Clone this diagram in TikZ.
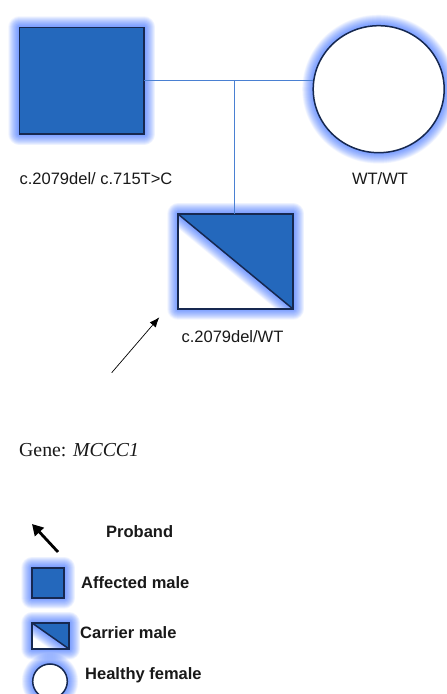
\documentclass[tikz,border=0pt]{standalone}
\usepackage{fontspec}
\setmainfont{Liberation Sans}
\newfontfamily\genefont{Liberation Serif}
\usetikzlibrary{shapes.geometric,arrows.meta}
\pgfdeclarelayer{bg}
\pgfsetlayers{bg,main}
\definecolor{fillblue}{RGB}{36,104,188}
\definecolor{edgeblue}{RGB}{22,40,80}
\definecolor{lineblue}{RGB}{74,128,210}
\definecolor{glowblue}{RGB}{40,100,255}
\definecolor{txt}{RGB}{25,25,25}
\tikzset{
  glowline/.style={draw=glowblue, opacity=0.04, line join=round},
  edge/.style={draw=edgeblue, line width=1.5pt},
  affbox/.style={rectangle, fill=fillblue, edge, inner sep=0pt, outer sep=0pt},
  whitebox/.style={rectangle, fill=white, inner sep=0pt, outer sep=0pt},
  femshape/.style={ellipse, fill=white, edge, inner sep=0pt, outer sep=0pt},
  kinline/.style={draw=lineblue, line width=0.9pt},
  lab/.style={font=\fontsize{16.5}{19}\selectfont, text=txt, inner sep=0pt, anchor=base},
  leglab/.style={font=\fontsize{16.5}{19}\selectfont\bfseries, text=txt, inner sep=0pt, anchor=base west},
}
\newcommand{\myglow}[1]{%
  \begin{pgfonlayer}{bg}
    \foreach \w in {1,2,...,22}{\path[glowline, line width=\w pt] #1;}
  \end{pgfonlayer}}
\newcommand{\carrierdraw}[1]{%
  \myglow{(#1.south west) rectangle (#1.north east)}
  \begin{scope}
    \clip (#1.south west) rectangle (#1.north east);
    \foreach \w in {1,2,...,22}{\path[glowline, line width=\w pt] (#1.north west) -- (#1.south east);}
  \end{scope}
  \fill[fillblue] (#1.north west) -- (#1.north east) -- (#1.south east) -- cycle;
  \draw[edge] (#1.north west) rectangle (#1.south east);
  \draw[edge] (#1.north west) -- (#1.south east);}
\begin{document}
\begin{tikzpicture}[x=1pt,y=1pt]
\useasboundingbox (0,0) rectangle (447,694);
\begin{pgfonlayer}{bg}
  \fill[white] (0,0) rectangle (447,694);
\end{pgfonlayer}

% parents
\node[affbox, minimum width=124.7pt, minimum height=106.7pt] (father) at (81.7,613.3) {};
\myglow{(father.south west) rectangle (father.north east)}
\node[femshape, minimum width=131pt, minimum height=127pt] (mother) at (378.7,604.8) {};
\myglow{(mother.center) ellipse [x radius=65.5pt, y radius=63.5pt]}

% child (proband, carrier)
\node[whitebox, minimum width=115pt, minimum height=95pt] (child) at (235.5,432.5) {};
\carrierdraw{child}

% connectors
\coordinate (sib) at (234,613.3);
\draw[kinline] (father.east) -- (father.east -| mother.west);
\draw[kinline] (sib) -- (sib |- child.north);

% labels
\node[lab] (flab) at (96,509) {c.2079del/ c.715T>C};
\node[lab] (mlab) at (380,509) {WT/WT};
\node[lab] (clab) at (232.5,351.3) {c.2079del/WT};

% proband arrow
\coordinate (atail) at (111.7,321.3);
\coordinate (ahead) at (159.3,376.7);
\draw[line width=0.7pt, -{Latex[length=10pt,width=8pt]}] (atail) -- (ahead);

% gene
\node[anchor=base west, inner sep=0pt, text=txt, font=\genefont\fontsize{19.8}{23}\selectfont] (gene) at (19,237) {Gene: \textit{MCCC1}};

% legend
\coordinate (ltail) at (58,142);
\coordinate (lhead) at (32,170);
\draw[line width=2.8pt, -{Triangle[length=11pt,width=12pt]}] (ltail) -- (lhead);
\node[leglab] (lproband) at (106,156.3) {Proband};

\node[affbox, minimum width=32pt, minimum height=30pt, line width=1.2pt] (legaff) at (48,111) {};
\myglow{(legaff.south west) rectangle (legaff.north east)}
\node[leglab] (laff) at (81,105.7) {Affected male};

\node[whitebox, minimum width=37pt, minimum height=26pt] (legcar) at (50.6,58) {};
\carrierdraw{legcar}
\node[leglab] (lcar) at (80,55.7) {Carrier male};

\node[femshape, minimum width=34.6pt, minimum height=34.6pt] (legfem) at (50,12.7) {};
\myglow{(legfem.center) circle [radius=17.3pt]}
\node[leglab] (lfem) at (85,14) {Healthy female};
\end{tikzpicture}
\end{document}
